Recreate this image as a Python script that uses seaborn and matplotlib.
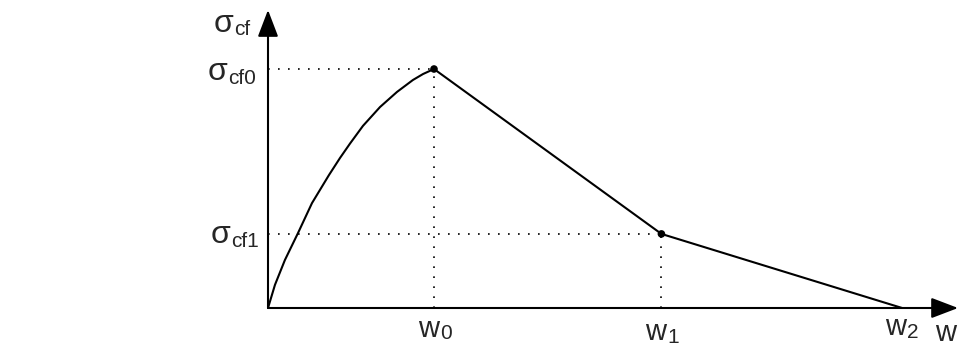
import matplotlib
matplotlib.use("Agg")
import matplotlib.pyplot as plt
import seaborn as sns

# normalised crack opening w and bridging stress sigma_cf (w0 = 1, sigma_cf0 = 1)
w_marks = [1.0, 2.37, 3.82]          # w0, w1, w2
sig_marks = [1.0, 0.31]              # sigma_cf0, sigma_cf1
w_labels = ["0", "1", "2"]
sig_labels = ["cf0", "cf1"]

# pre-peak curve
pre_w = [0.0, 0.042, 0.102, 0.181, 0.265, 0.367, 0.434, 0.494, 0.572,
         0.675, 0.777, 0.873, 0.934, 1.0]
pre_sig = [0.0, 0.097, 0.201, 0.314, 0.439, 0.556, 0.628, 0.688, 0.762,
           0.841, 0.904, 0.954, 0.979, 1.0]

prof_w = pre_w + [w_marks[1], w_marks[2]]
prof_sig = pre_sig + [sig_marks[1], 0.0]

sns.set_style("white")
plt.rcParams["font.family"] = ["Liberation Sans", "DejaVu Sans"]

fig = plt.figure(figsize=(9.59, 3.46), dpi=100)
ax = fig.add_axes([0, 0, 1, 1])
ax.set_xlim(-1.6145, 4.1627)
ax.set_ylim(-0.159, 1.2887)
ax.axis("off")

# axes with arrow heads
arrow = dict(arrowstyle="-|>,head_length=1.1,head_width=0.42", color="black",
             lw=1.5, shrinkA=0, shrinkB=0, mutation_scale=15)
ax.annotate("", xy=(0, 1.247), xytext=(0, 0), arrowprops=arrow)
ax.annotate("", xy=(4.157, 0), xytext=(0, 0), arrowprops=arrow)

# dotted guide lines
dot = dict(color="black", lw=1.2, ls=(0, (1, 5)))
ax.plot([0, w_marks[0]], [sig_marks[0], sig_marks[0]], **dot)
ax.plot([w_marks[0], w_marks[0]], [0, sig_marks[0]], **dot)
ax.plot([0, w_marks[1]], [sig_marks[1], sig_marks[1]], **dot)
ax.plot([w_marks[1], w_marks[1]], [0, sig_marks[1]], **dot)

sns.lineplot(x=prof_w, y=prof_sig, sort=False, estimator=None, color="black",
             lw=1.5, ax=ax)
sns.scatterplot(x=w_marks[:2], y=sig_marks, color="black", s=30,
                edgecolor="none", ax=ax, zorder=5)


def label(x, y, main, sub, ha, size=23, subsize=15):
    t = ax.text(x, y, main, ha=ha, va="baseline", fontsize=size)
    if sub:
        ax.annotate(sub, xy=(1, 0), xycoords=t, xytext=(0.5, 2.5),
                    textcoords="offset points", va="baseline", fontsize=subsize)


label(-0.211, 1.155, "σ", "cf", "right")
label(-0.247, sig_marks[0] - 0.046, "σ", sig_labels[0], "right")
label(-0.229, sig_marks[1] - 0.038, "σ", sig_labels[1], "right")
label(w_marks[0] - 0.096, -0.121, "w", w_labels[0], "left", size=21)
label(w_marks[1] - 0.096, -0.134, "w", w_labels[1], "left", size=21)
label(w_marks[2] - 0.102, -0.113, "w", w_labels[2], "left", size=21)
label(4.02, -0.140, "w", "", "left", size=21)

fig.savefig("out.png", dpi=100)
